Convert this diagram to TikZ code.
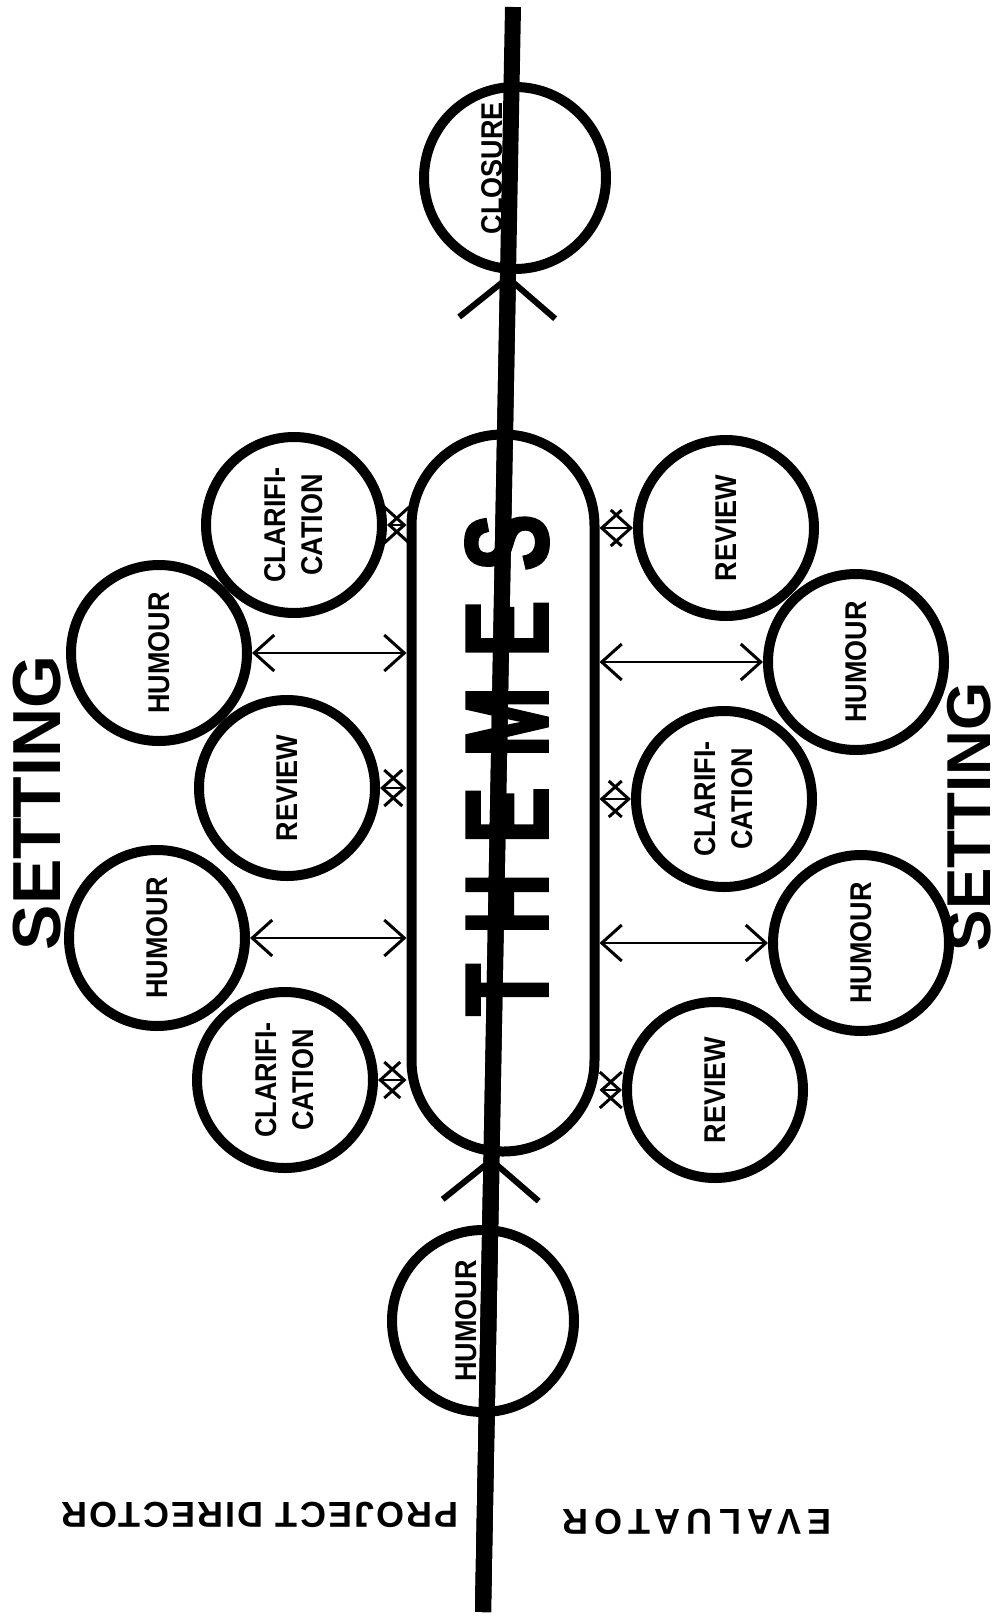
\documentclass[tikz,border=0pt]{standalone}
\usepackage{fontspec}
\setmainfont{Liberation Sans}
\newfontfamily\lblfont{Liberation Sans}[FakeStretch=0.9]
\newfontfamily\bigfont{Liberation Sans Bold}[FakeStretch=0.72, FakeBold=2]
\usetikzlibrary{arrows.meta,calc}

\begin{document}
\begin{tikzpicture}[x=1pt, y=-1pt,
    every node/.style={inner sep=0pt},
    spot/.style={circle, draw, line width=10pt, minimum size=176pt},
    lbl/.style={rotate=90, align=center, font=\lblfont\bfseries\fontsize{30}{37}\selectfont},
    side/.style={rotate=90, font=\bfseries\fontsize{68}{70}\selectfont},
    role/.style={rotate=180, font=\bfseries\fontsize{36}{40}\selectfont\addfontfeature{LetterSpace=6}},
    link/.style={line width=2pt, {Straight Barb[length=20pt,width=36pt,line width=3pt]}-{Straight Barb[length=20pt,width=36pt,line width=3pt]}},
    axis/.style={line width=16pt},
    flow/.style={line width=16pt, -{Straight Barb[length=40pt,width=96pt,line width=6pt]}}]
    \useasboundingbox (0,0) rectangle (1003,1617);

    % the line through the meeting
    \coordinate (base) at (483,1612);
    \coordinate (top) at (513,7);
    \draw[axis] (base) -- (top);

    % centre
    \node[draw, line width=10pt, minimum width=183pt, minimum height=717pt, rounded corners=91pt] (themes) at (503,793) {};
    \node[rotate=90, font=\bigfont\fontsize{118}{120}\selectfont\addfontfeature{LetterSpace=25}] (themestxt) at (507,765) {THEMES};

    % opening and closing
    \node[spot, minimum size=182pt] (humE) at (483,1321) {};
    \node[lbl] (humEtxt) at (466,1321) {HUMOUR};
    \node[spot, minimum size=182pt] (closure) at (515,178) {};
    \node[lbl] (closuretxt) at (492,168) {CLOSURE};
    \draw[flow] (base) -- ($(base)!(themes.south)!(top)$);
    \draw[flow] (base) -- ($(base)!(closure.south)!(top)$);

    % project director side
    \node[spot] (clarA) at (294,525) {};
    \node[lbl] (clarAtxt) at (clarA) {CLARIFI-\\CATION};
    \node[spot] (humA) at (159,653) {};
    \node[lbl] (humAtxt) at (humA) {HUMOUR};
    \node[spot] (revA) at (287,788) {};
    \node[lbl] (revAtxt) at (revA) {REVIEW};
    \node[spot] (humB) at (157,938) {};
    \node[lbl] (humBtxt) at (humB) {HUMOUR};
    \node[spot] (clarB) at (285,1080) {};
    \node[lbl] (clarBtxt) at (clarB) {CLARIFI-\\CATION};

    \draw[link] (clarA.east) -- (clarA.east -| themes.west);
    \draw[link] (humA.east) -- (humA.east -| themes.west);
    \draw[link] (revA.east) -- (revA.east -| themes.west);
    \draw[link] (humB.east) -- (humB.east -| themes.west);
    \draw[link] (clarB.east) -- (clarB.east -| themes.west);

    % evaluator side
    \node[spot] (revC) at (726,528) {};
    \node[lbl] (revCtxt) at (revC) {REVIEW};
    \node[spot] (humC) at (856,662) {};
    \node[lbl] (humCtxt) at (humC) {HUMOUR};
    \node[spot] (clarC) at (724,799) {};
    \node[lbl] (clarCtxt) at (clarC) {CLARIFI-\\CATION};
    \node[spot] (humD) at (861,943) {};
    \node[lbl] (humDtxt) at (humD) {HUMOUR};
    \node[spot] (revD) at (715,1090) {};
    \node[lbl] (revDtxt) at (revD) {REVIEW};

    \draw[link] (revC.west -| themes.east) -- (revC.west);
    \draw[link] (humC.west -| themes.east) -- (humC.west);
    \draw[link] (clarC.west -| themes.east) -- (clarC.west);
    \draw[link] (humD.west -| themes.east) -- (humD.west);
    \draw[link] (revD.west -| themes.east) -- (revD.west);

    \node[side] (settingL) at (37,803) {SETTING};
    \node[side, font=\bfseries\fontsize{62}{64}\selectfont] (settingR) at (969,817) {SETTING};

    \node[role] (director) at (260,1515) {PROJECT DIRECTOR};
    \node[role, font=\bfseries\fontsize{36}{40}\selectfont\addfontfeature{LetterSpace=18}] (evaluator) at (697,1522) {EVALUATOR};
\end{tikzpicture}
\end{document}
